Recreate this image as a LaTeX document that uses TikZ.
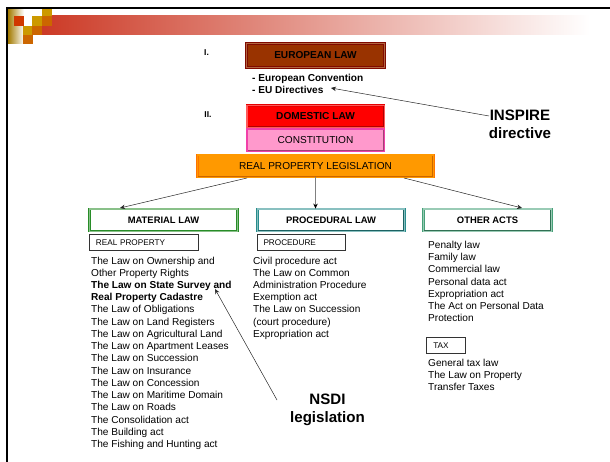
\documentclass[tikz,border=0pt]{standalone}
\usepackage{fontspec}
\setmainfont{Liberation Sans}
\usetikzlibrary{arrows.meta}
\definecolor{bandred}{RGB}{204,58,38}
\definecolor{squarered}{RGB}{208,56,0}
\definecolor{squaregold}{RGB}{204,153,0}
\definecolor{squareorange}{RGB}{204,102,0}
\definecolor{euborder}{RGB}{128,10,0}
\definecolor{eufill}{RGB}{153,51,0}
\definecolor{pinkfill}{RGB}{255,153,204}
\definecolor{orangefill}{RGB}{255,153,0}
\definecolor{tealline}{RGB}{40,140,140}
\definecolor{sealine}{RGB}{70,160,120}
\definecolor{greenline}{RGB}{40,140,40}
\tikzset{
    lawbox/.style={draw=#1, double=#1!55!white, line width=0.8pt, double distance=1.2pt,
        minimum height=22pt, inner sep=0pt, font=\fontsize{10.1}{12}\selectfont},
    groupbox/.style={lawbox=#1, fill=white, font=\fontsize{9.4}{12}\selectfont\bfseries},
    smallbox/.style={draw=black!80, line width=0.7pt, minimum height=16pt, inner sep=0pt,
        font=\fontsize{8.2}{10}\selectfont},
    listtext/.style={anchor=north west, align=left, inner sep=0pt,
        font=\fontsize{10.1}{12.23}\selectfont},
    bigtext/.style={align=center, inner sep=0pt, font=\fontsize{15.1}{18}\selectfont\bfseries},
    numtext/.style={inner sep=0pt, font=\fontsize{8.5}{10}\selectfont\bfseries},
    linkarrow/.style={-{Stealth[length=5pt,width=4.5pt]}, line width=0.5pt, draw=black!85}
}
\begin{document}
\begin{tikzpicture}[x=1pt,y=-1pt]
    \useasboundingbox (0,0) rectangle (610,462);
    % Header
    \shade[left color=squaregold!80!black, right color=white] (8,10) rectangle (24,44);
    \shade[left color=bandred, right color=white] (42,16) rectangle (590,35);
    \fill[squarered] (14,16) rectangle (24,26);
    \fill[squaregold] (32,16) rectangle (42,26);
    \fill[squaregold] (42,7) rectangle (52,16);
    \fill[squareorange] (42,16) rectangle (52,26);
    \fill[squaregold] (23,26) rectangle (32,35);
    \fill[squareorange] (32,26) rectangle (42,35);
    \fill[squareorange] (23,35) rectangle (33,44);
    % Frame
    \draw[line width=2pt] (6.5,462) -- (6.5,8.5) -- (610,8.5);
    % Top boxes
    \node[numtext] (one) at (206.5,53) {I.};
    \node[numtext] (two) at (208,115) {II.};
    \node[lawbox=euborder, double=eufill!75!white, fill=eufill, minimum width=138pt, minimum height=24pt] (european) at (315.5,55.5)
        {\bfseries EUROPEAN LAW};
    \node[anchor=north west, align=left, inner sep=0pt, font=\fontsize{10.1}{12}\selectfont\bfseries] (eulist) at (252,73.5)
        {- European Convention\\- EU Directives};
    \node[lawbox=red!90!black, double=red!65!white, fill=red, minimum width=137pt] (domestic) at (315.5,116.5)
        {\bfseries DOMESTIC LAW};
    \node[lawbox=magenta, double=magenta!75!white, fill=pinkfill, minimum width=137pt] (constitution) at (315.5,140)
        {CONSTITUTION};
    \node[lawbox=orange, double=orangefill, fill=orangefill, draw=orange!90!red, minimum width=236pt] (realprop) at (315.5,166)
        {REAL PROPERTY LEGISLATION};
    % Middle boxes
    \node[groupbox=greenline, minimum width=148pt] (material) at (163.5,220) {MATERIAL LAW};
    \node[groupbox=tealline, minimum width=147pt] (procedural) at (331,220) {PROCEDURAL LAW};
    \node[groupbox=sealine, minimum width=128pt] (other) at (487.5,220) {OTHER ACTS};
    \node[smallbox, minimum width=108.5pt, text width=95.5pt] (realbox) at (143.7,242.7) {REAL PROPERTY};
    \node[smallbox, minimum width=88pt, text width=75pt] (procbox) at (301,242.7) {PROCEDURE};
    \node[smallbox, minimum width=39pt, text width=26pt] (taxbox) at (446.3,345.7) {TAX};
    % Lists
    \node[listtext] (materiallist) at (91,256.5) {The Law on Ownership and\\Other Property Rights\\
        \textbf{The Law on State Survey and}\\\textbf{Real Property Cadastre}\\The Law of Obligations\\
        The Law on Land Registers\\The Law on Agricultural Land\\The Law on Apartment Leases\\
        The Law on Succession\\The Law on Insurance\\The Law on Concession\\The Law on Maritime Domain\\
        The Law on Roads\\The Consolidation act\\The Building act\\The Fishing and Hunting act};
    \node[listtext] (procedurelist) at (253,256.5) {Civil procedure act\\The Law on Common\\
        Administration Procedure\\Exemption act\\The Law on Succession\\(court procedure)\\Expropriation act};
    \node[listtext] (otherlist) at (428,241) {Penalty law\\Family law\\Commercial law\\Personal data act\\
        Expropriation act\\The Act on Personal Data\\Protection};
    \node[listtext] (taxlist) at (428,358.5) {General tax law\\The Law on Property\\Transfer Taxes};
    \node[bigtext] (inspire) at (520,124.5) {INSPIRE\\directive};
    \node[bigtext] (nsdi) at (327.5,409.5) {NSDI\\legislation};
    % Dark edges
    \foreach \boxname/\edgecolor in {european/euborder,domestic/red!70!black,constitution/magenta!60!black,
        realprop/squareorange,material/greenline,procedural/tealline!70!black,other/sealine!70!black} {
        \draw[line width=1pt, \edgecolor] ([shift={(-1,1)}]\boxname.north east) -- ([shift={(-1,-1)}]\boxname.south east)
            -- ([shift={(1,-1)}]\boxname.south west);
    }
    % Arrow ends
    \coordinate (inspirefoot) at (489,116);
    \coordinate (eutip) at (331,88);
    \coordinate (nsdifoot) at (277,400);
    \coordinate (cadastretip) at (215,289);
    \coordinate (realleft) at (247,178);
    \coordinate (realright) at (404,178);
    \coordinate (materialtip) at (120,208);
    \coordinate (othertip) at (522,208);
    % Arrows
    \draw[linkarrow] (inspirefoot) -- (eutip);
    \draw[linkarrow] (nsdifoot) -- (cadastretip);
    \draw[linkarrow] (realleft) -- (materialtip);
    \draw[linkarrow] (realright) -- (othertip);
    \draw[linkarrow, draw=gray, line width=1pt, {Stealth[length=5pt,width=4.5pt,black]}-] (realprop.south |- procedural.north) -- (realprop.south);
\end{tikzpicture}
\end{document}
